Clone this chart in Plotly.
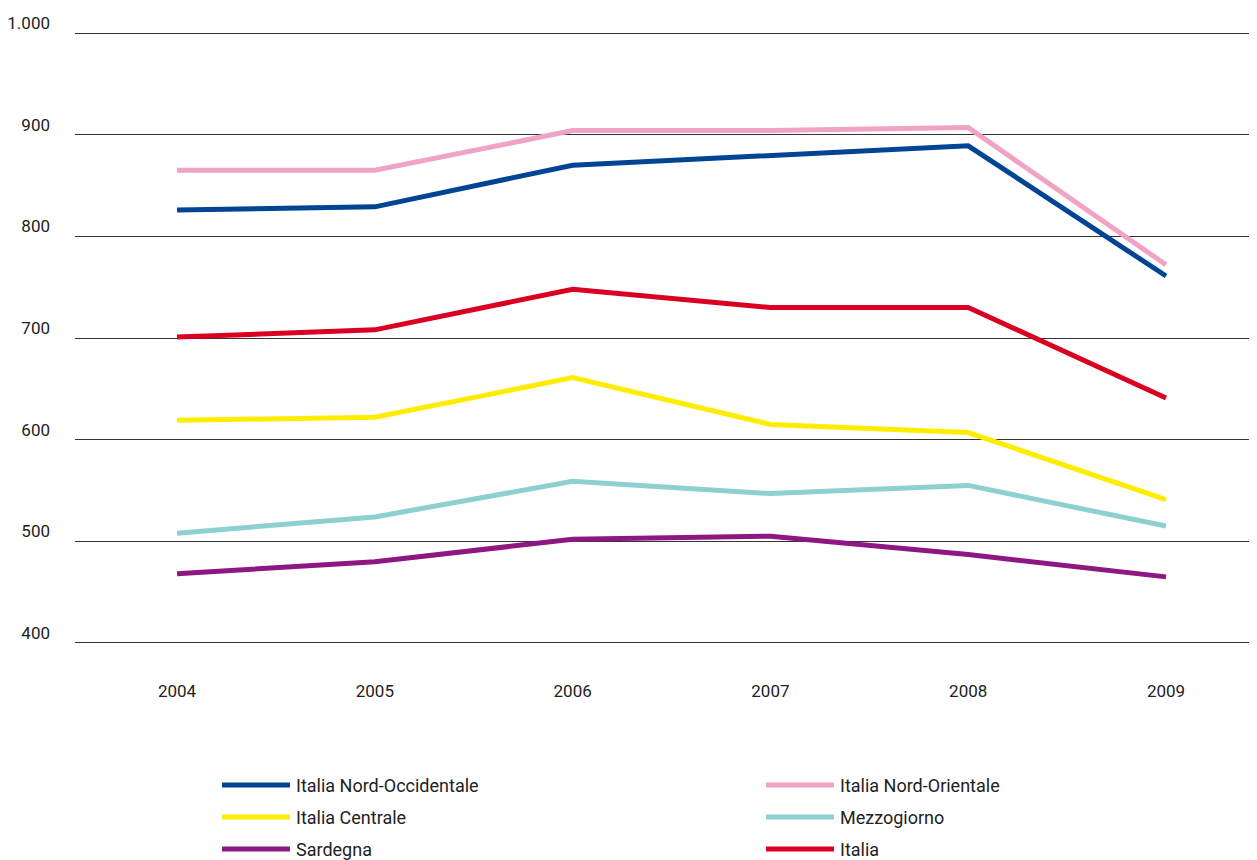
import plotly.graph_objects as go

years = [2004, 2005, 2006, 2007, 2008, 2009]
nord_occ = [826, 829, 870, 880, 889, 761]
nord_or = [865, 865, 904, 904, 907, 772]
centrale = [619, 622, 661, 615, 607, 541]
mezzogiorno = [508, 524, 559, 547, 555, 515]
sardegna = [468, 480, 502, 505, 487, 465]
italia = [701, 708, 748, 730, 730, 641]

y_ticks = [400, 500, 600, 700, 800, 900, 1000]
y_labels = ["400", "500", "600", "700", "800", "900", "1.000"]

series = [
    ("Italia Nord-Occidentale", nord_occ, "#004494"),
    ("Italia Nord-Orientale", nord_or, "#F0A3C4"),
    ("Italia Centrale", centrale, "#FFED00"),
    ("Mezzogiorno", mezzogiorno, "#8ECFCF"),
    ("Sardegna", sardegna, "#8E1781"),
    ("Italia", italia, "#D90022"),
]

FONT = "Roboto, Open Sans, sans-serif"

fig = go.Figure()
draw_order = [1, 0, 5, 2, 3, 4]
for i in draw_order:
    name, vals, col = series[i]
    fig.add_trace(go.Scatter(x=years, y=vals, name=name, mode="lines",
                             line=dict(color=col, width=5), showlegend=False))

OFF = 8  # page body margin
W, H = 1257 - OFF, 860 - OFF
L, R, T, B = 75 - OFF, 0, 31 - OFF, 860 - 645
pw = W - L - R
ph = H - T - B

def px(x):
    return (x - OFF - L) / pw

def py(y):
    return (H - B - (y - OFF)) / ph

legend_pos = [(222, 785), (766, 785), (222, 817), (766, 817), (222, 849), (766, 849)]
shapes = []
annotations = []
for (name, vals, col), (lx, ly) in zip(series, legend_pos):
    shapes.append(dict(type="line", xref="paper", yref="paper",
                       x0=px(lx), x1=px(lx + 68), y0=py(ly), y1=py(ly),
                       line=dict(color=col, width=5)))
    annotations.append(dict(xref="paper", yref="paper", x=px(lx + 72), y=py(ly),
                            text=name, showarrow=False, xanchor="left", yanchor="middle",
                            font=dict(family=FONT, size=18, color="#222222")))

fig.update_layout(
    width=W, height=H,
    margin=dict(l=L, r=R, t=T, b=B),
    plot_bgcolor="white", paper_bgcolor="white",
    xaxis=dict(range=[2003.484, 2009.46], tickvals=years, showgrid=False,
               zeroline=False, showline=False, ticks="",
               ticklabelstandoff=34,
               tickfont=dict(family=FONT, size=17, color="#222222")),
    yaxis=dict(range=[398, 1002], tickvals=y_ticks, ticktext=y_labels,
               showgrid=True, gridcolor="#333333", gridwidth=1.3,
               zeroline=False, showline=False, ticks="",
               ticklabelstandoff=24, ticklabelshift=-10,
               tickfont=dict(family=FONT, size=17, color="#222222")),
    shapes=shapes, annotations=annotations,
    showlegend=False,
)

fig.write_html("out.html")
